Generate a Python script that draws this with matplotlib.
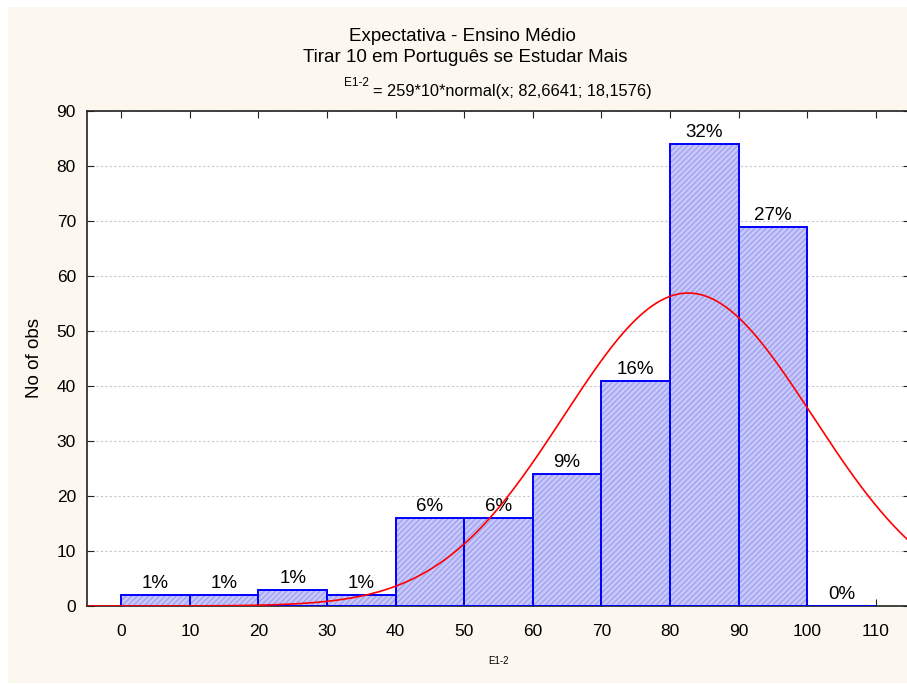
import numpy as np
import matplotlib.pyplot as plt
from matplotlib.patches import Rectangle

plt.rcParams['font.family'] = ['Liberation Sans', 'DejaVu Sans']

# histogram of E1-2 (class width 10)
edges = [0, 10, 20, 30, 40, 50, 60, 70, 80, 90, 100]
counts = [2, 2, 3, 2, 16, 16, 24, 41, 84, 69, 0]
pct_labels = ['1%', '1%', '1%', '1%', '6%', '6%', '9%', '16%', '32%', '27%', '0%']
n_total = 259
mu = 82.6641
sd = 18.1576

W, H = 907, 684
fig = plt.figure(figsize=(W / 100, H / 100), dpi=100, facecolor='white')
fig.patches.append(Rectangle((8 / W, 1 / H), 1.0, 676 / H, transform=fig.transFigure,
                             facecolor='#FDF8EF', edgecolor='none', zorder=-10))

ax = fig.add_axes([87 / W, 78 / H, 823 / W, 495 / H])
ax.set_facecolor('white')

# filled bars with fine hatching, then blue outlines on top
ax.bar(edges, counts, width=10, align='edge', color='#C8C8FB', edgecolor='#A2A2F0',
       hatch='//////', linewidth=0, zorder=2)
ax.bar(edges, counts, width=10, align='edge', fill=False, edgecolor='#0000FF',
       linewidth=1.4, zorder=3)

for x0, c, lab in zip(edges, counts, pct_labels):
    ax.annotate(lab, (x0 + 5, c), xytext=(0, 5), textcoords='offset points',
                ha='center', va='baseline', fontsize=13.5)

# expected normal curve
xs = np.linspace(-5, 115, 400)
ys = n_total * 10 * np.exp(-0.5 * ((xs - mu) / sd) ** 2) / (sd * np.sqrt(2 * np.pi))
ax.plot(xs, ys, color='red', linewidth=1.2, zorder=4)

ax.set_xlim(-5, 115)
ax.set_ylim(0, 90)
ax.set_xticks(range(0, 111, 10))
ax.set_yticks(range(0, 91, 10))
ax.yaxis.grid(True, linestyle=(0, (2, 2)), color='#C8C8C8', linewidth=0.8, zorder=0)
ax.tick_params(direction='in', length=5, top=True, right=True, labelsize=12.5, color='#222222')
ax.tick_params(axis='y', pad=8)
ax.tick_params(axis='x', pad=13)
for s in ax.spines.values():
    s.set_color('#222222')
    s.set_linewidth(1.2)

ax.set_ylabel('No of obs', fontsize=13.5, labelpad=10)
ax.set_xlabel('E1-2', fontsize=7, labelpad=12)

fig.text(462 / W, 1 - 41 / H, 'Expectativa - Ensino Médio', ha='center', va='baseline', fontsize=13.5)
fig.text(465 / W, 1 - 62 / H, 'Tirar 10 em Português se Estudar Mais', ha='center', va='baseline', fontsize=13.5)
fig.text(373 / W, 1 - 96 / H, '= 259*10*normal(x; 82,6641; 18,1576)', ha='left', va='baseline', fontsize=11.8)
fig.text(369 / W, 1 - 86 / H, 'E1-2', ha='right', va='baseline', fontsize=8.5)

fig.savefig('out.png', dpi=100, facecolor='white')
